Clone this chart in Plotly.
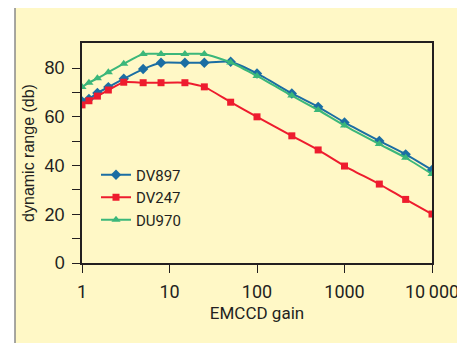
import plotly.graph_objects as go

gain = [1, 1.2, 1.5, 2, 3, 5, 8, 15, 25, 50, 100, 250, 500, 1000, 2500, 5000, 10000]
dv897 = [66.3, 67.3, 69.8, 72.2, 75.6, 79.6, 82.2, 82.2, 82.2, 82.6, 77.8, 69.6, 64.1, 57.7, 50.1, 44.6, 38.2]
dv247 = [64.9, 66.6, 68.5, 71.0, 74.2, 74.0, 74.0, 74.0, 72.3, 66.0, 60.0, 52.2, 46.4, 39.8, 32.4, 26.1, 20.1]
du970 = [72.2, 74.0, 75.8, 78.3, 81.8, 85.8, 85.8, 85.8, 85.8, 82.3, 76.8, 68.7, 62.8, 56.4, 48.8, 43.2, 36.5]

x_tickvals = [1, 10, 100, 1000, 10000]
x_ticktext = ["1", "10", "100", "1000", "10\u2009000"]

series = [
    ("DV897", dv897, "#1b6ea3", "diamond", 8),
    ("DV247", dv247, "#ee1c2e", "square", 7),
    ("DU970", du970, "#3bb77a", "triangle-up", 8),
]

fig = go.Figure()
for name, vals, color, sym, size in series:
    fig.add_trace(go.Scatter(
        x=gain, y=vals, name=name, mode="lines+markers",
        line=dict(color=color, width=2, shape="spline", smoothing=0.5),
        marker=dict(symbol=sym, size=size, color=color),
    ))

bg = "#fff8c6"
ink = "#231f20"
fig.update_layout(
    width=465, height=343,
    margin=dict(l=74, r=41, t=35, b=88, autoexpand=False),
    paper_bgcolor="white", plot_bgcolor=bg,
    font=dict(family="Liberation Sans, Arial, sans-serif", color=ink, size=16),
    showlegend=True,
    legend=dict(x=0.04, y=0.475, xanchor="left", yanchor="top", bgcolor="rgba(0,0,0,0)",
                font=dict(size=15, family="Roboto, Liberation Sans, sans-serif"), tracegroupgap=0),
    shapes=[dict(type="rect", xref="paper", yref="paper", x0=-0.1914, x1=1.0829,
                 y0=-0.45, y1=1.1636, fillcolor=bg, line=dict(color="#8a8a8a", width=1.5),
                 layer="below")],
)
fig.update_xaxes(
    type="log", range=[0, 4], tickvals=x_tickvals, ticktext=x_ticktext,
    ticks="outside", ticklen=8, tickwidth=1.2, tickcolor=ink, ticklabelstandoff=4,
    showline=True, linecolor=ink, linewidth=1.5, mirror=True, automargin=False,
    showgrid=False, zeroline=False,
    tickfont=dict(family="Roboto, Liberation Sans, sans-serif", size=18),
    title=dict(text="EMCCD gain", standoff=6,
               font=dict(family="Roboto, Liberation Sans, sans-serif", size=17)),
)
fig.update_yaxes(
    range=[0, 90.3], tickvals=[0, 20, 40, 60, 80],
    ticks="outside", ticklen=8, tickwidth=1.2, tickcolor=ink, ticklabelstandoff=4,
    minor=dict(tickvals=[10, 30, 50, 70], ticks="outside", ticklen=8, tickwidth=1.2, tickcolor=ink),
    showline=True, linecolor=ink, linewidth=1.5, mirror=True, automargin=False,
    showgrid=False, zeroline=False,
    tickfont=dict(size=18),
    title=dict(text="dynamic range (db)", standoff=6, font=dict(size=16)),
)

fig.write_html("out.html")
